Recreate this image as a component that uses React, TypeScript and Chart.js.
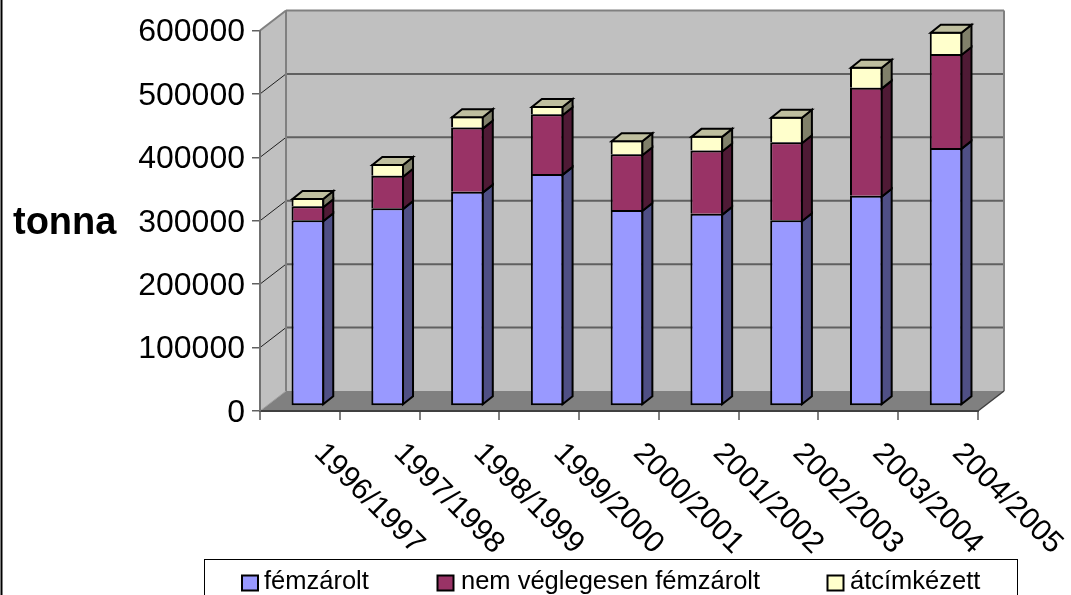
import React, { useEffect, useRef } from "react";
import { Chart, registerables } from "chart.js";

Chart.register(...registerables);

const categories = ["1996/1997", "1997/1998", "1998/1999", "1999/2000", "2000/2001", "2001/2002", "2002/2003", "2003/2004", "2004/2005"];
const femzarolt = [293000, 312000, 338000, 366000, 309000, 303000, 293000, 331500, 407000];
const nemVegleges = [22000, 51000, 101000, 94000, 88000, 100000, 123000, 170500, 148000];
const atcimkezett = [13000, 18500, 18000, 13000, 22000, 23000, 40000, 33000, 35000];
const seriesNames = ["fémzárolt", "nem véglegesen fémzárolt", "átcímkézett"];
const axisTitle = "tonna";

const frontColors = ["#9999FF", "#993366", "#FFFFCC"];
const sideColors = ["#4F4F85", "#4F1A35", "#80806A"];
const topColor = "#BFBF9F";
const FONT = "'Liberation Sans', Arial, sans-serif";

const WALL_DX = 26, WALL_DY = -20;
const BAR_SHIFT_X = 8, BAR_SHIFT_Y = -5;
const BAR_DX = 10, BAR_DY = -8;

function poly(ctx: CanvasRenderingContext2D, pts: number[][], fill?: string, stroke?: string, lw = 2) {
  ctx.beginPath();
  pts.forEach((p, i) => (i ? ctx.lineTo(p[0], p[1]) : ctx.moveTo(p[0], p[1])));
  ctx.closePath();
  if (fill) { ctx.fillStyle = fill; ctx.fill(); }
  if (stroke) { ctx.strokeStyle = stroke; ctx.lineWidth = lw; ctx.stroke(); }
}
function seg(ctx: CanvasRenderingContext2D, x1: number, y1: number, x2: number, y2: number, c: string, lw: number) {
  ctx.beginPath(); ctx.moveTo(x1, y1); ctx.lineTo(x2, y2);
  ctx.strokeStyle = c; ctx.lineWidth = lw; ctx.stroke();
}

const box3d = {
  id: "box3d",
  beforeDraw(chart: any) {
    const { ctx, chartArea: a, scales } = chart;
    const { left: l, right: r, top: t, bottom: b } = a;
    ctx.save();
    ctx.fillStyle = "#FFFFFF";
    ctx.fillRect(0, 0, chart.width, chart.height);
    seg(ctx, 1.5, 0, 1.5, 595, "#000000", 2);
    poly(ctx, [[l + WALL_DX, t + WALL_DY], [r + WALL_DX, t + WALL_DY], [r + WALL_DX, b + WALL_DY], [l + WALL_DX, b + WALL_DY]], "#C0C0C0");
    poly(ctx, [[l, t], [l + WALL_DX, t + WALL_DY], [l + WALL_DX, b + WALL_DY], [l, b]], "#C0C0C0");
    poly(ctx, [[l, b], [r, b], [r + WALL_DX, b + WALL_DY], [l + WALL_DX, b + WALL_DY]], "#808080");
    const ys = scales.y;
    ys.ticks.forEach((tk: any) => {
      const y = ys.getPixelForValue(tk.value);
      if (tk.value > 0 && tk.value < 600000) {
        seg(ctx, l + WALL_DX, y + WALL_DY, r + WALL_DX, y + WALL_DY, "#606060", 2);
        seg(ctx, l, y, l + WALL_DX, y + WALL_DY, "#202020", 1);
      }
    });
    seg(ctx, l + WALL_DX, b + WALL_DY, l + WALL_DX, t + WALL_DY, "#808080", 2);
    seg(ctx, l + WALL_DX, t + WALL_DY, r + WALL_DX, t + WALL_DY, "#808080", 2);
    seg(ctx, r + WALL_DX, t + WALL_DY, r + WALL_DX, b + WALL_DY, "#808080", 2);
    seg(ctx, l, t, l + WALL_DX, t + WALL_DY, "#808080", 2);
    seg(ctx, l, b, l + WALL_DX, b + WALL_DY, "#A0A0A0", 1);
    seg(ctx, r, b, r + WALL_DX, b + WALL_DY, "#404040", 1.5);
    ctx.restore();
  },
  beforeDatasetsDraw(chart: any) {
    chart.ctx.save();
    chart.ctx.translate(BAR_SHIFT_X, BAR_SHIFT_Y);
  },
  afterDatasetsDraw(chart: any) {
    const ctx = chart.ctx;
    const n = chart.data.datasets.length;
    ctx.lineJoin = "miter";
    chart.data.datasets.forEach((_: any, d: number) => {
      chart.getDatasetMeta(d).data.forEach((el: any) => {
        const { x, y, base, width } = el.getProps(["x", "y", "base", "width"], true);
        const xr = x + width / 2 - 1, xl = x - width / 2 + 1, yt = y + 1, yb = d === 0 ? base - 1 : base + 1;
        poly(ctx, [[xr, yb], [xr, yt], [xr + BAR_DX, yt + BAR_DY], [xr + BAR_DX, yb + BAR_DY]], sideColors[d], "#000000", 2);
        if (d === n - 1) {
          poly(ctx, [[xl, yt], [xr, yt], [xr + BAR_DX, yt + BAR_DY], [xl + BAR_DX, yt + BAR_DY]], topColor, "#000000", 2);
        }
      });
    });
    ctx.restore();
  },
  afterDraw(chart: any) {
    const ctx = chart.ctx;
    ctx.save();
    ctx.font = `bold 38px ${FONT}`;
    ctx.fillStyle = "#000000";
    ctx.textAlign = "left";
    ctx.textBaseline = "alphabetic";
    ctx.fillText(axisTitle, 13, 234);
    ctx.fillStyle = "#FFFFFF";
    ctx.strokeStyle = "#000000";
    ctx.lineWidth = 1;
    ctx.fillRect(204.5, 559.5, 813, 40);
    ctx.strokeRect(204.5, 559.5, 813, 40);
    const boxX = [242, 437.5, 827.5];
    const textX = [264, 461, 850];
    ctx.font = `25.5px ${FONT}`;
    seriesNames.forEach((name, i) => {
      ctx.fillStyle = frontColors[i];
      ctx.fillRect(boxX[i], 575.5, 16, 15);
      ctx.strokeStyle = "#000000";
      ctx.lineWidth = 2;
      ctx.strokeRect(boxX[i], 575.5, 16, 15);
      ctx.fillStyle = "#000000";
      ctx.fillText(name, textX[i], 589);
    });
    ctx.restore();
  },
};

export default function App() {
  const ref = useRef<HTMLCanvasElement>(null);
  useEffect(() => {
    const valueSets = [femzarolt, nemVegleges, atcimkezett];
    const chart = new Chart(ref.current!, {
      type: "bar",
      data: {
        labels: categories,
        datasets: valueSets.map((vals, i) => ({
          label: seriesNames[i],
          data: vals,
          backgroundColor: frontColors[i],
          borderColor: "#000000",
          borderWidth: i === 0 ? 2 : { top: 2, left: 2, right: 2, bottom: 0 },
          borderSkipped: false,
          inflateAmount: 0,
          clip: false as any,
          barPercentage: 1,
          categoryPercentage: 0.41,
        })),
      },
      options: {
        responsive: false,
        animation: false,
        devicePixelRatio: 1,
        layout: { padding: { top: 30.5, right: 93, left: 0, bottom: 0 } },
        plugins: { legend: { display: false }, tooltip: { enabled: false } },
        scales: {
          x: {
            stacked: true,
            position: "bottom",
            beforeUpdate: (s: any) => { s._getXAxisLabelAlignment = () => "left"; },
            afterFit: (s: any) => { s.height = 184; },
            grid: { drawOnChartArea: false, drawTicks: true, tickLength: 9, color: "#808080", lineWidth: 2 },
            border: { display: true, color: "#404040", width: 2 },
            ticks: { minRotation: -45, maxRotation: -45, autoSkip: false, padding: 16, labelOffset: 19, color: "#000000", font: { family: FONT, size: 30 } },
          } as any,
          y: {
            stacked: true,
            min: 0,
            max: 600000,
            afterFit: (s: any) => { s.width = 260; },
            grid: { drawOnChartArea: false, drawTicks: true, tickLength: 8, color: "#606060", lineWidth: 1.5 },
            border: { display: true, color: "#707070", width: 2 },
            ticks: { stepSize: 100000, padding: 7, labelOffset: 2, color: "#000000", font: { family: FONT, size: 32 }, callback: (v: any) => String(v) },
          },
        },
      },
      plugins: [box3d],
    });
    return () => chart.destroy();
  }, []);
  return (
    <canvas ref={ref} width={1071} height={595} style={{ position: "absolute", left: 0, top: 0, display: "block" }} />
  );
}
